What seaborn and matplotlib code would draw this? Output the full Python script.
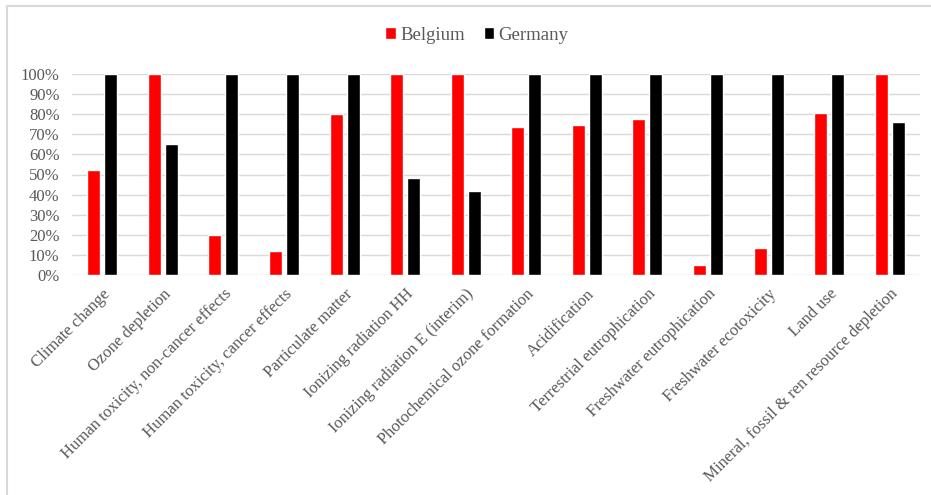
import matplotlib
matplotlib.use("Agg")
import matplotlib.pyplot as plt
import seaborn as sns
import pandas as pd
from matplotlib.ticker import PercentFormatter
from matplotlib.patches import Rectangle

categories = ["Climate change", "Ozone depletion", "Human toxicity, non-cancer effects",
              "Human toxicity, cancer effects", "Particulate matter", "Ionizing radiation HH",
              "Ionizing radiation E (interim)", "Photochemical ozone formation", "Acidification",
              "Terrestrial eutrophication", "Freshwater eutrophication", "Freshwater ecotoxicity",
              "Land use", "Mineral, fossil & ren resource depletion"]
belgium = [0.523, 1.0, 0.199, 0.120, 0.801, 1.0, 1.0, 0.736, 0.744, 0.776, 0.051, 0.135, 0.806, 1.0]
germany = [1.0, 0.651, 1.0, 1.0, 1.0, 0.485, 0.420, 1.0, 1.0, 1.0, 1.0, 1.0, 1.0, 0.761]
series = ["Belgium", "Germany"]
colors = ["#ff0000", "#000000"]

df = pd.DataFrame({
    "category": categories * 2,
    "value": belgium + germany,
    "country": [series[0]] * len(categories) + [series[1]] * len(categories),
})

sns.set_theme(style="white")
plt.rcParams['font.family'] = ['Liberation Serif', 'DejaVu Serif']
text_color = "#595959"

fig = plt.figure(figsize=(9.31, 4.95), dpi=100)
fig.add_artist(Rectangle((6.5/931, -0.1), 2, (1 - 6.5/495) + 0.1, transform=fig.transFigure,
                         fill=False, edgecolor="#d9d9d9", linewidth=1.5))
ax = fig.add_axes([72/931, 1 - 275/495, (920-72)/931, (275-74)/495])

sns.barplot(data=df, x="category", y="value", hue="country", order=categories,
            hue_order=series, palette=colors, width=0.56, gap=0.235, ax=ax,
            errorbar=None, legend=True, saturation=1)

ax.set_ylim(0, 1)
ax.set_xlim(-0.5, len(categories) - 0.5)
ax.set_yticks([i / 10 for i in range(11)])
ax.yaxis.set_major_formatter(PercentFormatter(1.0, decimals=0))
ax.grid(axis="y", color="#d9d9d9", linewidth=1)
ax.set_axisbelow(True)
for s in ax.spines.values():
    s.set_visible(False)
ax.set_xlabel("")
ax.set_ylabel("")
ax.tick_params(axis="y", colors=text_color, labelsize=12, length=0, pad=9)
ax.tick_params(axis="x", colors=text_color, labelsize=12, length=0, pad=8)
for lab in ax.get_xticklabels():
    lab.set_rotation(45)
    lab.set_ha("right")
    lab.set_rotation_mode("anchor")

handles, labels = ax.get_legend_handles_labels()
ax.legend_.remove()
leg = fig.legend(handles, labels, loc="center", bbox_to_anchor=(477/931, 1 - 35/495),
                 ncol=2, frameon=False, fontsize=13.5, handlelength=0.55, handleheight=0.55,
                 handletextpad=0.25, columnspacing=1.0)
for t in leg.get_texts():
    t.set_color(text_color)

fig.savefig("out.png", dpi=100)
